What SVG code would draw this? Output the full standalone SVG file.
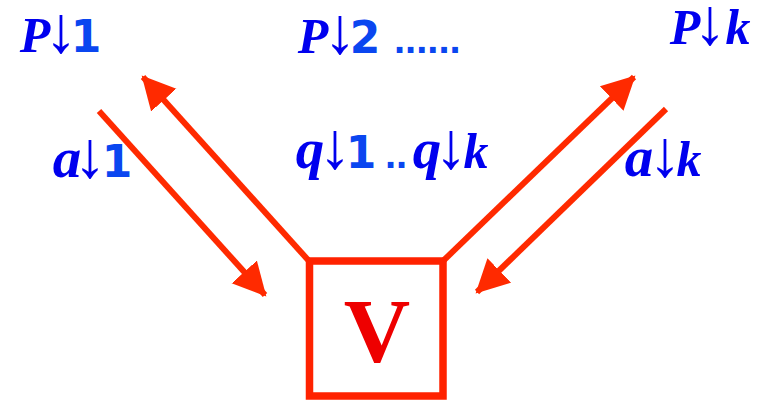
<svg xmlns="http://www.w3.org/2000/svg" width="766" height="400" viewBox="0 0 766 400">
<style>
text{text-anchor:middle}
.v{font-family:"Liberation Serif",serif;font-weight:bold;font-style:italic;fill:#0000ee;font-size:50px}
.x{font-family:"Liberation Serif",serif;font-weight:bold;font-style:italic;fill:#0000ee;font-size:57px}
.d{font-family:"DejaVu Sans",sans-serif;font-weight:bold;font-style:normal;fill:#0a46f0;font-size:44px}
.ar{font-family:"Liberation Serif",serif;font-weight:normal;font-style:normal;fill:#0000ee;font-size:66px}
.dots{font-family:"Liberation Sans",sans-serif;font-weight:bold;font-style:normal;fill:#0a46f0;font-size:40px;text-anchor:start}
.c{stroke:#ff2a00;stroke-width:6;fill:none;marker-end:url(#ah)}
</style>
<defs>
<marker id="ah" viewBox="0 0 34 38" markerWidth="34" markerHeight="38" refX="31" refY="19" orient="auto" markerUnits="userSpaceOnUse">
<path d="M0,2 L33,19 L0,36 z" fill="#ff2a00"/>
</marker>
</defs>
<rect width="766" height="400" fill="#ffffff"/>
<g id="connectors">
<line class="c" x1="99" y1="111" x2="265" y2="295"/>
<line class="c" x1="309" y1="261" x2="143" y2="77"/>
<line class="c" x1="443" y1="261" x2="634" y2="77"/>
<line class="c" x1="666" y1="109" x2="477" y2="292"/>
</g>
<g id="node-V">
<rect x="309.5" y="261" width="133.5" height="135" fill="#ffffff" stroke="#ff2200" stroke-width="7.5"/>
<text x="377" y="362" font-family="Liberation Serif,serif" font-weight="bold" font-size="92" fill="#ee0000">V</text>
</g>
<g id="node-P1">
<text y="52"><tspan class="v" x="35">P</tspan><tspan class="ar" x="61">↓</tspan><tspan class="d" x="86">1</tspan></text>
</g>
<g id="node-P2">
<text y="53"><tspan class="v" x="313">P</tspan><tspan class="ar" x="340">↓</tspan><tspan class="d" x="365">2</tspan><tspan class="dots" x="394">......</tspan></text>
</g>
<g id="node-Pk">
<text y="44"><tspan class="v" x="685">P</tspan><tspan class="ar" x="710">↓</tspan><tspan class="v" x="738">k</tspan></text>
</g>
<g id="label-a1">
<text y="177"><tspan class="x" x="67">a</tspan><tspan class="ar" x="90">↓</tspan><tspan class="d" x="117">1</tspan></text>
</g>
<g id="label-q">
<text y="168"><tspan class="x" x="310">q</tspan><tspan class="ar" x="335">↓</tspan><tspan class="d" x="361">1</tspan><tspan class="dots" x="385">..</tspan><tspan class="x" x="427">q</tspan><tspan class="ar" x="451">↓</tspan><tspan class="v" x="476">k</tspan></text>
</g>
<g id="label-ak">
<text y="176"><tspan class="x" x="639">a</tspan><tspan class="ar" x="665">↓</tspan><tspan class="v" x="689">k</tspan></text>
</g>
</svg>
